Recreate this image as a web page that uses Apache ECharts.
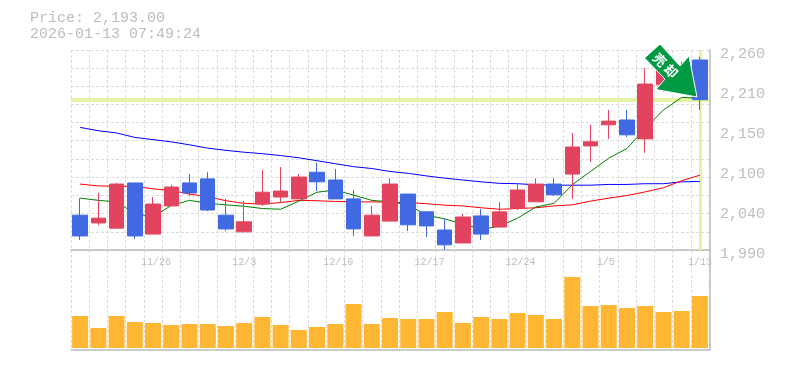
<!DOCTYPE html>
<html>
<head>
<meta charset="utf-8">
<style>html,body{margin:0;padding:0;background:#fff}#chart{width:785px;height:370px}</style>
<script src="https://cdn.jsdelivr.net/npm/echarts@6/dist/echarts.min.js"></script>
</head>
<body>
<div id="chart"></div>
<script>
var dates = ['11/19','11/20','11/21','11/25','11/26','11/27','11/28','12/1','12/2','12/3','12/4','12/5','12/8','12/9','12/10','12/11','12/12','12/15','12/16','12/17','12/18','12/19','12/22','12/23','12/24','12/25','12/26','12/29','12/30','1/5','1/6','1/7','1/8','1/9','1/13'];
// open, close, low, high
var candles = [
  [2037,2009,2003.5,2060],[2026.5,2033,2023.5,2067],[2019.5,2079,2019.5,2080.5],[2080.5,2009,2005,2080.5],
  [2011.5,2052,2011.5,2061.5],[2049.5,2075,2049.5,2078],[2080.5,2067,2063,2092.5],[2086,2044,2042.5,2095],
  [2037,2018.5,2015.5,2059],[2014.5,2028,2014.5,2056],[2052,2068,2049.5,2098],[2061.5,2069.5,2054,2102],
  [2059,2088.5,2059,2092.5],[2095,2082,2069.5,2107.5],[2084.5,2059,2059,2099.5],[2059,2018.5,2009,2071],
  [2009,2037,2009,2049.5],[2029,2079,2029,2087],[2065.5,2024,2015.5,2065.5],[2041.5,2022.5,2007.5,2041.5],
  [2017,1997,1990,2032],[1999.5,2034.5,1999.5,2038.5],[2036,2011.5,2003.5,2045.5],[2021,2041.5,2021,2055],
  [2046.5,2071,2044,2079],[2055,2079,2055,2087],[2079,2064.5,2063,2087],[2092.5,2129,2059,2148],
  [2130.5,2136,2109,2159],[2159,2164,2140,2179],[2165.5,2145.5,2142.5,2179],[2140,2214,2121,2235.5],
  [2213,2237.5,2203.5,2246.5],[2208.5,2226.5,2204.5,2244.5],[2246.5,2193,2179,2251]
];
var maGreen = [2060,2057,2055,2039,2035,2050,2057,2053,2051,2049,2046,2045,2056,2068,2071,2064,2057,2055,2051,2037,2032,2025,2018,2022,2033,2048,2053,2078,2096,2114,2127,2154,2179,2196,2195];
var maRed = [2079,2076.5,2076,2076,2072.5,2070.5,2065.5,2062,2056.5,2053,2052,2054,2057,2056.5,2055.5,2055,2055,2054.5,2054,2052.5,2050.5,2049.5,2047,2045,2046,2047,2049.5,2051,2056,2060,2063.5,2068.5,2074,2083.5,2091];
var maBlue = [2155.5,2151,2148,2142,2139,2136,2132,2127.5,2124.5,2122,2120,2117.5,2114.5,2110.5,2106.5,2102.5,2100,2096,2093.5,2090,2087,2084.5,2082,2080,2079.5,2078,2077.5,2077.5,2077.5,2078.5,2078.5,2079.5,2079.5,2082,2082.5];
var volumes = [320,200,320,260,250,230,240,240,220,250,310,230,180,210,240,440,240,300,290,290,360,250,310,290,350,330,290,710,420,430,400,420,360,370,520];
var gridTicks = [2260,2235.5,2211,2186.5,2162,2137.5,2112.5,2088,2063.5,2039,2014.5,1990];
var labelTicks = [2260,2206,2152,2098,2044,1990];
var labelTexts = ['2,260','2,210','2,150','2,100','2,040','1,990'];
var price = 2193;
var priceText = 'Price: 2,193.00';
var timeText = '2026-01-13 07:49:24';

var mono = '"Liberation Mono", monospace';
var grey = '#bdbdbd';
var dash = {color:'#dcdcdc',type:[3,2],width:1};

var chart = echarts.init(document.getElementById('chart'), null, {renderer:'canvas'});
chart.setOption({
  animation:false,
  backgroundColor:'#fff',
  title:{left:25,top:5,text:priceText+'\n'+timeText,textStyle:{fontFamily:mono,fontSize:15,fontWeight:'normal',color:grey,lineHeight:16}},
  grid:[
    {left:71,width:638,top:50,height:200},
    {left:71,width:638,top:250,height:100}
  ],
  xAxis:[
    {type:'category',gridIndex:0,data:dates,boundaryGap:true,
      axisLine:{lineStyle:{color:'#bbb',width:1.5}},axisTick:{show:false},
      axisLabel:{interval:function(i){return i%5==4},margin:7,fontFamily:mono,fontSize:10,color:grey,hideOverlap:false,
        formatter:function(v){return ' '+v.padEnd(5)}}, // labels start at a fixed offset left of the candle
      splitLine:{show:true,interval:0,lineStyle:dash}},
    {type:'category',gridIndex:1,data:dates,boundaryGap:true,
      axisLine:{onZero:false,lineStyle:{color:'#bbb',width:1.5}},axisTick:{show:false},axisLabel:{show:false},
      splitLine:{show:true,interval:0,lineStyle:dash}}
  ],
  yAxis:[
    {type:'value',gridIndex:0,position:'right',offset:1,min:1990,max:2260,scale:true,
      axisLine:{show:true,lineStyle:{color:'#bbb',width:1.5}},
      axisTick:{show:false,customValues:gridTicks},
      axisLabel:{customValues:labelTicks,margin:10,fontFamily:mono,fontSize:15,color:grey,verticalAlign:'top',lineHeight:8,
        formatter:function(v){return labelTexts[labelTicks.indexOf(v)]}},
      splitLine:{show:true,lineStyle:dash}},
    {type:'value',gridIndex:1,position:'right',offset:1,min:-20,max:980,
      axisLine:{show:true,lineStyle:{color:'#bbb',width:1.5}},axisTick:{show:false},axisLabel:{show:false},splitLine:{show:false}}
  ],
  series:[
    {type:'line',xAxisIndex:0,yAxisIndex:0,data:[],z:1,silent:true,
      markLine:{silent:true,symbol:'none',label:{show:false},animation:false,z:1,
        lineStyle:{color:'#e3f5a5',type:'solid'},
        data:[
          {yAxis:price,lineStyle:{width:4,color:'#e3f5a5',type:'solid'}},
          {xAxis:dates[dates.length-1],lineStyle:{width:3,color:'#e3f5a5',type:'solid'}}
        ]}},
    {name:'MA blue',type:'line',data:maBlue,showSymbol:false,z:2,lineStyle:{color:'#0000ff',width:1}},
    {name:'MA red',type:'line',data:maRed,showSymbol:false,z:2,lineStyle:{color:'#ff0000',width:1}},
    {name:'MA green',type:'line',data:maGreen,showSymbol:false,z:2,lineStyle:{color:'#008000',width:1}},
    {name:'Price',type:'candlestick',data:candles,barWidth:15,z:3,
      itemStyle:{color:'#e2445f',color0:'#4169e1',borderColor:'#e2445f',borderColor0:'#4169e1',borderWidth:1}},
    {name:'Volume',type:'bar',xAxisIndex:1,yAxisIndex:1,data:volumes,barWidth:16,itemStyle:{color:'#ffb733'},z:3}
  ],
  graphic:[
    {type:'polygon',z:100,
      shape:{points:[[660,44],[644.5,58],[665,79],[656,89.5],[697,97],[689,56],[680,66]]},
      style:{fill:'#009944',stroke:'#fff',lineWidth:1}},
    {type:'text',z:101,x:665.5,y:65.5,rotation:-Math.PI/4,originX:0,originY:0,
      style:{text:'売 却',fill:'#fff',font:'bold 13px "Noto Sans CJK JP"',align:'center',verticalAlign:'middle'}}
  ]
});
</script>
</body>
</html>
